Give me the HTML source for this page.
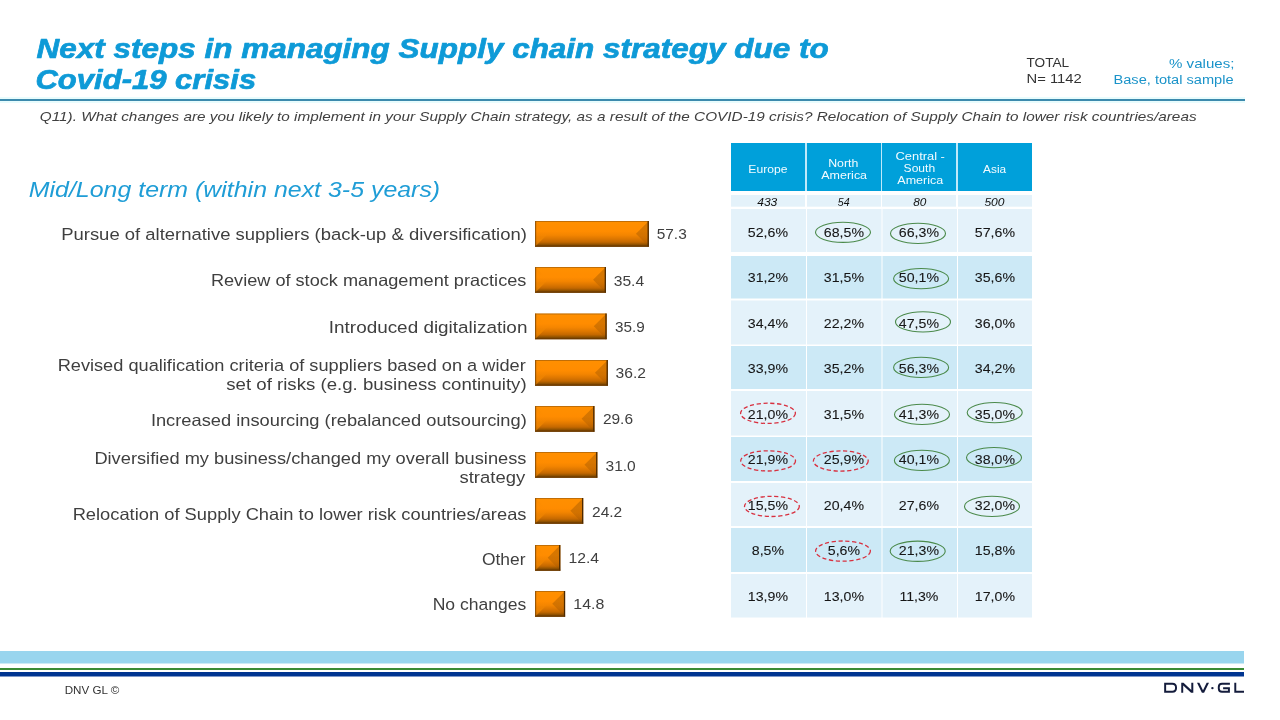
<!DOCTYPE html>
<html><head><meta charset="utf-8"><style>
html,body{margin:0;padding:0;background:#fff;width:1280px;height:720px;overflow:hidden}
svg{display:block;will-change:transform;font-family:"Liberation Sans",sans-serif}
</style></head><body>
<svg width="1280" height="720" viewBox="0 0 1280 720">
<defs>
<linearGradient id="gv" x1="0" y1="0" x2="0" y2="1">
 <stop offset="0" stop-color="#f59010"/><stop offset="0.06" stop-color="#ff8f00"/><stop offset="0.4" stop-color="#ff8c00"/><stop offset="0.55" stop-color="#f48500"/><stop offset="0.7" stop-color="#dc7600"/><stop offset="0.82" stop-color="#c46800"/><stop offset="0.9" stop-color="#9a5600"/><stop offset="0.95" stop-color="#7c4600"/><stop offset="1" stop-color="#764200"/>
</linearGradient>
<linearGradient id="gr" x1="0" y1="0" x2="0" y2="1">
 <stop offset="0" stop-color="#3a1e00" stop-opacity="0.22"/><stop offset="0.5" stop-color="#3a1e00" stop-opacity="0.2"/><stop offset="1" stop-color="#3a1e00" stop-opacity="0.0"/>
</linearGradient>
<linearGradient id="gl" x1="0" y1="0" x2="0" y2="1">
 <stop offset="0" stop-color="#e88000" stop-opacity="0.35"/><stop offset="0.5" stop-color="#ff9000" stop-opacity="0.0"/><stop offset="0.75" stop-color="#ff9000" stop-opacity="0.55"/><stop offset="1" stop-color="#f08400" stop-opacity="0.6"/>
</linearGradient>
</defs>
<rect x="0" y="97" width="1245" height="6" fill="#e8fcfd"/><rect x="0" y="99" width="1245" height="2" fill="#3c8aad"/>
<rect x="731" y="143" width="301" height="48" fill="#bfe9fa"/>
<rect x="731" y="143" width="74" height="48" fill="#00a0da"/>
<rect x="731" y="195" width="74" height="11.7" fill="#e4f2fa"/>
<rect x="807" y="143" width="74" height="48" fill="#00a0da"/>
<rect x="807" y="195" width="74" height="11.7" fill="#e4f2fa"/>
<rect x="882" y="143" width="74" height="48" fill="#00a0da"/>
<rect x="882" y="195" width="74" height="11.7" fill="#e4f2fa"/>
<rect x="958" y="143" width="74" height="48" fill="#00a0da"/>
<rect x="958" y="195" width="74" height="11.7" fill="#e4f2fa"/>
<rect x="731" y="209" width="75" height="43" fill="#e4f2fa"/>
<rect x="807" y="209" width="74.5" height="43" fill="#e4f2fa"/>
<rect x="882.5" y="209" width="74.5" height="43" fill="#e4f2fa"/>
<rect x="958" y="209" width="74" height="43" fill="#e4f2fa"/>
<rect x="731" y="256" width="75" height="42.5" fill="#cce9f6"/>
<rect x="807" y="256" width="74.5" height="42.5" fill="#cce9f6"/>
<rect x="882.5" y="256" width="74.5" height="42.5" fill="#cce9f6"/>
<rect x="958" y="256" width="74" height="42.5" fill="#cce9f6"/>
<rect x="731" y="300.5" width="75" height="44.0" fill="#e4f2fa"/>
<rect x="807" y="300.5" width="74.5" height="44.0" fill="#e4f2fa"/>
<rect x="882.5" y="300.5" width="74.5" height="44.0" fill="#e4f2fa"/>
<rect x="958" y="300.5" width="74" height="44.0" fill="#e4f2fa"/>
<rect x="731" y="346" width="75" height="43" fill="#cce9f6"/>
<rect x="807" y="346" width="74.5" height="43" fill="#cce9f6"/>
<rect x="882.5" y="346" width="74.5" height="43" fill="#cce9f6"/>
<rect x="958" y="346" width="74" height="43" fill="#cce9f6"/>
<rect x="731" y="391" width="75" height="44.5" fill="#e4f2fa"/>
<rect x="807" y="391" width="74.5" height="44.5" fill="#e4f2fa"/>
<rect x="882.5" y="391" width="74.5" height="44.5" fill="#e4f2fa"/>
<rect x="958" y="391" width="74" height="44.5" fill="#e4f2fa"/>
<rect x="731" y="437" width="75" height="44" fill="#cce9f6"/>
<rect x="807" y="437" width="74.5" height="44" fill="#cce9f6"/>
<rect x="882.5" y="437" width="74.5" height="44" fill="#cce9f6"/>
<rect x="958" y="437" width="74" height="44" fill="#cce9f6"/>
<rect x="731" y="483" width="75" height="43" fill="#e4f2fa"/>
<rect x="807" y="483" width="74.5" height="43" fill="#e4f2fa"/>
<rect x="882.5" y="483" width="74.5" height="43" fill="#e4f2fa"/>
<rect x="958" y="483" width="74" height="43" fill="#e4f2fa"/>
<rect x="731" y="528" width="75" height="44" fill="#cce9f6"/>
<rect x="807" y="528" width="74.5" height="44" fill="#cce9f6"/>
<rect x="882.5" y="528" width="74.5" height="44" fill="#cce9f6"/>
<rect x="958" y="528" width="74" height="44" fill="#cce9f6"/>
<rect x="731" y="574" width="75" height="43.5" fill="#e4f2fa"/>
<rect x="807" y="574" width="74.5" height="43.5" fill="#e4f2fa"/>
<rect x="882.5" y="574" width="74.5" height="43.5" fill="#e4f2fa"/>
<rect x="958" y="574" width="74" height="43.5" fill="#e4f2fa"/>
<g transform="translate(535.10,221)"><rect x="0" y="0" width="113.70" height="25.7" fill="url(#gv)"/><polygon points="0,0 12.85,12.85 0,25.7" fill="url(#gl)"/><polygon points="113.70,0 100.85,12.85 113.70,25.7" fill="url(#gr)"/><rect x="0.5" y="0.5" width="112.70" height="24.7" fill="none" stroke="#8a4c00" stroke-opacity="0.5" stroke-width="1"/><rect x="0" y="0" width="1" height="25.7" fill="#7a4400" fill-opacity="0.6"/><rect x="112.50" y="0" width="1.2" height="25.7" fill="#4a2800"/><rect x="0" y="24.70" width="113.70" height="1" fill="#6a3a00"/></g>
<g transform="translate(535.10,267)"><rect x="0" y="0" width="70.80" height="25.7" fill="url(#gv)"/><polygon points="0,0 12.85,12.85 0,25.7" fill="url(#gl)"/><polygon points="70.80,0 57.95,12.85 70.80,25.7" fill="url(#gr)"/><rect x="0.5" y="0.5" width="69.80" height="24.7" fill="none" stroke="#8a4c00" stroke-opacity="0.5" stroke-width="1"/><rect x="0" y="0" width="1" height="25.7" fill="#7a4400" fill-opacity="0.6"/><rect x="69.60" y="0" width="1.2" height="25.7" fill="#4a2800"/><rect x="0" y="24.70" width="70.80" height="1" fill="#6a3a00"/></g>
<g transform="translate(535.10,313.5)"><rect x="0" y="0" width="71.50" height="25.7" fill="url(#gv)"/><polygon points="0,0 12.85,12.85 0,25.7" fill="url(#gl)"/><polygon points="71.50,0 58.65,12.85 71.50,25.7" fill="url(#gr)"/><rect x="0.5" y="0.5" width="70.50" height="24.7" fill="none" stroke="#8a4c00" stroke-opacity="0.5" stroke-width="1"/><rect x="0" y="0" width="1" height="25.7" fill="#7a4400" fill-opacity="0.6"/><rect x="70.30" y="0" width="1.2" height="25.7" fill="#4a2800"/><rect x="0" y="24.70" width="71.50" height="1" fill="#6a3a00"/></g>
<g transform="translate(535.10,360)"><rect x="0" y="0" width="72.70" height="25.7" fill="url(#gv)"/><polygon points="0,0 12.85,12.85 0,25.7" fill="url(#gl)"/><polygon points="72.70,0 59.85,12.85 72.70,25.7" fill="url(#gr)"/><rect x="0.5" y="0.5" width="71.70" height="24.7" fill="none" stroke="#8a4c00" stroke-opacity="0.5" stroke-width="1"/><rect x="0" y="0" width="1" height="25.7" fill="#7a4400" fill-opacity="0.6"/><rect x="71.50" y="0" width="1.2" height="25.7" fill="#4a2800"/><rect x="0" y="24.70" width="72.70" height="1" fill="#6a3a00"/></g>
<g transform="translate(535.10,406)"><rect x="0" y="0" width="59.30" height="25.7" fill="url(#gv)"/><polygon points="0,0 12.85,12.85 0,25.7" fill="url(#gl)"/><polygon points="59.30,0 46.45,12.85 59.30,25.7" fill="url(#gr)"/><rect x="0.5" y="0.5" width="58.30" height="24.7" fill="none" stroke="#8a4c00" stroke-opacity="0.5" stroke-width="1"/><rect x="0" y="0" width="1" height="25.7" fill="#7a4400" fill-opacity="0.6"/><rect x="58.10" y="0" width="1.2" height="25.7" fill="#4a2800"/><rect x="0" y="24.70" width="59.30" height="1" fill="#6a3a00"/></g>
<g transform="translate(535.10,452)"><rect x="0" y="0" width="62.20" height="25.7" fill="url(#gv)"/><polygon points="0,0 12.85,12.85 0,25.7" fill="url(#gl)"/><polygon points="62.20,0 49.35,12.85 62.20,25.7" fill="url(#gr)"/><rect x="0.5" y="0.5" width="61.20" height="24.7" fill="none" stroke="#8a4c00" stroke-opacity="0.5" stroke-width="1"/><rect x="0" y="0" width="1" height="25.7" fill="#7a4400" fill-opacity="0.6"/><rect x="61.00" y="0" width="1.2" height="25.7" fill="#4a2800"/><rect x="0" y="24.70" width="62.20" height="1" fill="#6a3a00"/></g>
<g transform="translate(535.10,498)"><rect x="0" y="0" width="48.10" height="25.7" fill="url(#gv)"/><polygon points="0,0 12.85,12.85 0,25.7" fill="url(#gl)"/><polygon points="48.10,0 35.25,12.85 48.10,25.7" fill="url(#gr)"/><rect x="0.5" y="0.5" width="47.10" height="24.7" fill="none" stroke="#8a4c00" stroke-opacity="0.5" stroke-width="1"/><rect x="0" y="0" width="1" height="25.7" fill="#7a4400" fill-opacity="0.6"/><rect x="46.90" y="0" width="1.2" height="25.7" fill="#4a2800"/><rect x="0" y="24.70" width="48.10" height="1" fill="#6a3a00"/></g>
<g transform="translate(535.10,545)"><rect x="0" y="0" width="25.20" height="25.7" fill="url(#gv)"/><polygon points="0,0 12.60,12.85 0,25.7" fill="url(#gl)"/><polygon points="25.20,0 12.60,12.85 25.20,25.7" fill="url(#gr)"/><rect x="0.5" y="0.5" width="24.20" height="24.7" fill="none" stroke="#8a4c00" stroke-opacity="0.5" stroke-width="1"/><rect x="0" y="0" width="1" height="25.7" fill="#7a4400" fill-opacity="0.6"/><rect x="24.00" y="0" width="1.2" height="25.7" fill="#4a2800"/><rect x="0" y="24.70" width="25.20" height="1" fill="#6a3a00"/></g>
<g transform="translate(535.10,591)"><rect x="0" y="0" width="30.00" height="25.7" fill="url(#gv)"/><polygon points="0,0 12.85,12.85 0,25.7" fill="url(#gl)"/><polygon points="30.00,0 17.15,12.85 30.00,25.7" fill="url(#gr)"/><rect x="0.5" y="0.5" width="29.00" height="24.7" fill="none" stroke="#8a4c00" stroke-opacity="0.5" stroke-width="1"/><rect x="0" y="0" width="1" height="25.7" fill="#7a4400" fill-opacity="0.6"/><rect x="28.80" y="0" width="1.2" height="25.7" fill="#4a2800"/><rect x="0" y="24.70" width="30.00" height="1" fill="#6a3a00"/></g>
<text transform="translate(36.60,57.5) scale(1.1571,1.0)" font-size="27.2" font-weight="bold" font-style="italic" fill="#0e9ad7" stroke="#0e9ad7" stroke-width="0.7" stroke-linejoin="round">Next steps in managing Supply chain strategy due to</text>
<text transform="translate(35.46,89.4) scale(1.1412,1.0)" font-size="27.2" font-weight="bold" font-style="italic" fill="#0e9ad7" stroke="#0e9ad7" stroke-width="0.7" stroke-linejoin="round">Covid-19 crisis</text>
<text transform="translate(39.75,120.7) scale(1.2573,1.0)" font-size="12.2" font-weight="normal" font-style="italic" fill="#404040">Q11). What changes are you likely to implement in your Supply Chain strategy, as a result of the COVID-19 crisis? Relocation of Supply Chain to lower risk countries/areas</text>
<text transform="translate(1026.50,66.9) scale(1.1375,1.0)" font-size="12" font-weight="normal" font-style="normal" fill="#333333">TOTAL</text>
<text transform="translate(1026.50,82.8) scale(1.2340,1.0)" font-size="12" font-weight="normal" font-style="normal" fill="#333333">N= 1142</text>
<text transform="translate(1169.00,67.8) scale(1.2575,1.0)" font-size="12" font-weight="normal" font-style="normal" fill="#1a93c9">% values;</text>
<text transform="translate(1113.50,83.8) scale(1.2166,1.0)" font-size="12" font-weight="normal" font-style="normal" fill="#1a93c9">Base, total sample</text>
<text transform="translate(28.75,196.6) scale(1.1136,1.0)" font-size="22.4" font-weight="normal" font-style="italic" fill="#1f9dd6">Mid/Long term (within next 3-5 years)</text>
<text transform="translate(61.17,239.8) scale(1.1328,1.0)" font-size="16.3" font-weight="normal" font-style="normal" fill="#3f3f3f">Pursue of alternative suppliers (back-up &amp; diversification)</text>
<text transform="translate(210.89,286.2) scale(1.1135,1.0)" font-size="16.3" font-weight="normal" font-style="normal" fill="#3f3f3f">Review of stock management practices</text>
<text transform="translate(328.84,332.5) scale(1.1603,1.0)" font-size="16.3" font-weight="normal" font-style="normal" fill="#3f3f3f">Introduced digitalization</text>
<text transform="translate(57.63,370.5) scale(1.1165,1.0)" font-size="16.3" font-weight="normal" font-style="normal" fill="#3f3f3f">Revised qualification criteria of suppliers based on a wider</text>
<text transform="translate(226.25,389.5) scale(1.1445,1.0)" font-size="16.3" font-weight="normal" font-style="normal" fill="#3f3f3f">set of risks (e.g. business continuity)</text>
<text transform="translate(150.88,426.25) scale(1.1219,1.0)" font-size="16.3" font-weight="normal" font-style="normal" fill="#3f3f3f">Increased insourcing (rebalanced outsourcing)</text>
<text transform="translate(94.38,464.25) scale(1.1203,1.0)" font-size="16.3" font-weight="normal" font-style="normal" fill="#3f3f3f">Diversified my business/changed my overall business</text>
<text transform="translate(459.50,482.5) scale(1.1332,1.0)" font-size="16.3" font-weight="normal" font-style="normal" fill="#3f3f3f">strategy</text>
<text transform="translate(72.63,520) scale(1.1239,1.0)" font-size="16.3" font-weight="normal" font-style="normal" fill="#3f3f3f">Relocation of Supply Chain to lower risk countries/areas</text>
<text transform="translate(482.00,564.5) scale(1.0679,1.0)" font-size="16.3" font-weight="normal" font-style="normal" fill="#3f3f3f">Other</text>
<text transform="translate(432.67,609.5) scale(1.0770,1.0)" font-size="16.3" font-weight="normal" font-style="normal" fill="#3f3f3f">No changes</text>
<text transform="translate(656.70,238.5) scale(1.1033,1.0)" font-size="14.0" font-weight="normal" font-style="normal" fill="#3f3f3f">57.3</text>
<text transform="translate(613.75,285.9) scale(1.1161,1.0)" font-size="14.0" font-weight="normal" font-style="normal" fill="#3f3f3f">35.4</text>
<text transform="translate(615.00,331.5) scale(1.0924,1.0)" font-size="14.0" font-weight="normal" font-style="normal" fill="#3f3f3f">35.9</text>
<text transform="translate(615.50,378.2) scale(1.1179,1.0)" font-size="14.0" font-weight="normal" font-style="normal" fill="#3f3f3f">36.2</text>
<text transform="translate(602.90,424) scale(1.1070,1.0)" font-size="14.0" font-weight="normal" font-style="normal" fill="#3f3f3f">29.6</text>
<text transform="translate(605.50,470.7) scale(1.1106,1.0)" font-size="14.0" font-weight="normal" font-style="normal" fill="#3f3f3f">31.0</text>
<text transform="translate(592.00,516.7) scale(1.1106,1.0)" font-size="14.0" font-weight="normal" font-style="normal" fill="#3f3f3f">24.2</text>
<text transform="translate(568.47,562.6) scale(1.1261,1.0)" font-size="14.0" font-weight="normal" font-style="normal" fill="#3f3f3f">12.4</text>
<text transform="translate(573.36,608.7) scale(1.1375,1.0)" font-size="14.0" font-weight="normal" font-style="normal" fill="#3f3f3f">14.8</text>
<text transform="translate(748.30,172.8) scale(1.1799,1.0)" font-size="10.3" font-weight="normal" font-style="normal" fill="#f2fbff">Europe</text>
<text transform="translate(828.20,166.9) scale(1.1983,1.0)" font-size="10.3" font-weight="normal" font-style="normal" fill="#f2fbff">North</text>
<text transform="translate(821.30,178.6) scale(1.2120,1.0)" font-size="10.3" font-weight="normal" font-style="normal" fill="#f2fbff">America</text>
<text transform="translate(895.50,159.6) scale(1.2521,1.0)" font-size="10.3" font-weight="normal" font-style="normal" fill="#f2fbff">Central -</text>
<text transform="translate(903.60,171.5) scale(1.1736,1.0)" font-size="10.3" font-weight="normal" font-style="normal" fill="#f2fbff">South</text>
<text transform="translate(897.30,184.4) scale(1.2146,1.0)" font-size="10.3" font-weight="normal" font-style="normal" fill="#f2fbff">America</text>
<text transform="translate(983.10,172.8) scale(1.1476,1.0)" font-size="10.3" font-weight="normal" font-style="normal" fill="#f2fbff">Asia</text>
<text transform="translate(757.20,205.5) scale(1.2031,1.0)" font-size="10" font-weight="normal" font-style="italic" fill="#111111">433</text>
<text transform="translate(837.80,205.5) scale(1.0639,1.0)" font-size="10" font-weight="normal" font-style="italic" fill="#111111">54</text>
<text transform="translate(913.20,205.5) scale(1.1850,1.0)" font-size="10" font-weight="normal" font-style="italic" fill="#111111">80</text>
<text transform="translate(984.40,205.5) scale(1.2031,1.0)" font-size="10" font-weight="normal" font-style="italic" fill="#111111">500</text>
<text transform="translate(64.70,693.75) scale(1.0975,1.0)" font-size="10.6" font-weight="normal" font-style="normal" fill="#333333">DNV GL ©</text>
<text transform="translate(747.85,236.9) scale(1.1607,1)" font-size="12.2" font-style="normal" fill="#161616" stroke="#161616" stroke-width="0.08">52,6%</text>
<text transform="translate(823.85,236.9) scale(1.1607,1)" font-size="12.2" font-style="normal" fill="#161616" stroke="#161616" stroke-width="0.08">68,5%</text>
<text transform="translate(898.85,236.9) scale(1.1607,1)" font-size="12.2" font-style="normal" fill="#161616" stroke="#161616" stroke-width="0.08">66,3%</text>
<text transform="translate(974.85,236.9) scale(1.1607,1)" font-size="12.2" font-style="normal" fill="#161616" stroke="#161616" stroke-width="0.08">57,6%</text>
<text transform="translate(747.85,282) scale(1.1607,1)" font-size="12.2" font-style="normal" fill="#161616" stroke="#161616" stroke-width="0.08">31,2%</text>
<text transform="translate(823.85,282) scale(1.1607,1)" font-size="12.2" font-style="normal" fill="#161616" stroke="#161616" stroke-width="0.08">31,5%</text>
<text transform="translate(898.85,282) scale(1.1607,1)" font-size="12.2" font-style="normal" fill="#161616" stroke="#161616" stroke-width="0.08">50,1%</text>
<text transform="translate(974.85,282) scale(1.1607,1)" font-size="12.2" font-style="normal" fill="#161616" stroke="#161616" stroke-width="0.08">35,6%</text>
<text transform="translate(747.85,328) scale(1.1607,1)" font-size="12.2" font-style="normal" fill="#161616" stroke="#161616" stroke-width="0.08">34,4%</text>
<text transform="translate(823.85,328) scale(1.1607,1)" font-size="12.2" font-style="normal" fill="#161616" stroke="#161616" stroke-width="0.08">22,2%</text>
<text transform="translate(898.85,328) scale(1.1607,1)" font-size="12.2" font-style="normal" fill="#161616" stroke="#161616" stroke-width="0.08">47,5%</text>
<text transform="translate(974.85,328) scale(1.1607,1)" font-size="12.2" font-style="normal" fill="#161616" stroke="#161616" stroke-width="0.08">36,0%</text>
<text transform="translate(747.85,373) scale(1.1607,1)" font-size="12.2" font-style="normal" fill="#161616" stroke="#161616" stroke-width="0.08">33,9%</text>
<text transform="translate(823.85,373) scale(1.1607,1)" font-size="12.2" font-style="normal" fill="#161616" stroke="#161616" stroke-width="0.08">35,2%</text>
<text transform="translate(898.85,373) scale(1.1607,1)" font-size="12.2" font-style="normal" fill="#161616" stroke="#161616" stroke-width="0.08">56,3%</text>
<text transform="translate(974.85,373) scale(1.1607,1)" font-size="12.2" font-style="normal" fill="#161616" stroke="#161616" stroke-width="0.08">34,2%</text>
<text transform="translate(747.85,418.75) scale(1.1607,1)" font-size="12.2" font-style="normal" fill="#161616" stroke="#161616" stroke-width="0.08">21,0%</text>
<text transform="translate(823.85,418.75) scale(1.1607,1)" font-size="12.2" font-style="normal" fill="#161616" stroke="#161616" stroke-width="0.08">31,5%</text>
<text transform="translate(898.85,418.75) scale(1.1607,1)" font-size="12.2" font-style="normal" fill="#161616" stroke="#161616" stroke-width="0.08">41,3%</text>
<text transform="translate(974.85,418.75) scale(1.1607,1)" font-size="12.2" font-style="normal" fill="#161616" stroke="#161616" stroke-width="0.08">35,0%</text>
<text transform="translate(747.85,464) scale(1.1607,1)" font-size="12.2" font-style="normal" fill="#161616" stroke="#161616" stroke-width="0.08">21,9%</text>
<text transform="translate(823.85,464) scale(1.1607,1)" font-size="12.2" font-style="normal" fill="#161616" stroke="#161616" stroke-width="0.08">25,9%</text>
<text transform="translate(898.85,464) scale(1.1607,1)" font-size="12.2" font-style="normal" fill="#161616" stroke="#161616" stroke-width="0.08">40,1%</text>
<text transform="translate(974.85,464) scale(1.1607,1)" font-size="12.2" font-style="normal" fill="#161616" stroke="#161616" stroke-width="0.08">38,0%</text>
<text transform="translate(747.85,510) scale(1.1607,1)" font-size="12.2" font-style="normal" fill="#161616" stroke="#161616" stroke-width="0.08">15,5%</text>
<text transform="translate(823.85,510) scale(1.1607,1)" font-size="12.2" font-style="normal" fill="#161616" stroke="#161616" stroke-width="0.08">20,4%</text>
<text transform="translate(898.85,510) scale(1.1607,1)" font-size="12.2" font-style="normal" fill="#161616" stroke="#161616" stroke-width="0.08">27,6%</text>
<text transform="translate(974.85,510) scale(1.1607,1)" font-size="12.2" font-style="normal" fill="#161616" stroke="#161616" stroke-width="0.08">32,0%</text>
<text transform="translate(751.78,555) scale(1.1607,1)" font-size="12.2" font-style="normal" fill="#161616" stroke="#161616" stroke-width="0.08">8,5%</text>
<text transform="translate(827.78,555) scale(1.1607,1)" font-size="12.2" font-style="normal" fill="#161616" stroke="#161616" stroke-width="0.08">5,6%</text>
<text transform="translate(898.85,555) scale(1.1607,1)" font-size="12.2" font-style="normal" fill="#161616" stroke="#161616" stroke-width="0.08">21,3%</text>
<text transform="translate(974.85,555) scale(1.1607,1)" font-size="12.2" font-style="normal" fill="#161616" stroke="#161616" stroke-width="0.08">15,8%</text>
<text transform="translate(747.85,601) scale(1.1607,1)" font-size="12.2" font-style="normal" fill="#161616" stroke="#161616" stroke-width="0.08">13,9%</text>
<text transform="translate(823.85,601) scale(1.1607,1)" font-size="12.2" font-style="normal" fill="#161616" stroke="#161616" stroke-width="0.08">13,0%</text>
<text transform="translate(899.38,601) scale(1.1607,1)" font-size="12.2" font-style="normal" fill="#161616" stroke="#161616" stroke-width="0.08">11,3%</text>
<text transform="translate(974.85,601) scale(1.1607,1)" font-size="12.2" font-style="normal" fill="#161616" stroke="#161616" stroke-width="0.08">17,0%</text>
<ellipse cx="843" cy="232.3" rx="27.5" ry="10.1" fill="none" stroke="#4b8a4b" stroke-width="1.1"/>
<ellipse cx="918" cy="233.4" rx="27.5" ry="10.1" fill="none" stroke="#4b8a4b" stroke-width="1.1"/>
<ellipse cx="921.1" cy="278.6" rx="27.5" ry="10.1" fill="none" stroke="#4b8a4b" stroke-width="1.1"/>
<ellipse cx="923" cy="321.9" rx="27.5" ry="10.1" fill="none" stroke="#4b8a4b" stroke-width="1.1"/>
<ellipse cx="921.1" cy="367.4" rx="27.5" ry="10.1" fill="none" stroke="#4b8a4b" stroke-width="1.1"/>
<ellipse cx="922" cy="414.4" rx="27.5" ry="10.1" fill="none" stroke="#4b8a4b" stroke-width="1.1"/>
<ellipse cx="994.7" cy="412.6" rx="27.5" ry="10.1" fill="none" stroke="#4b8a4b" stroke-width="1.1"/>
<ellipse cx="921.9" cy="460.4" rx="27.5" ry="10.1" fill="none" stroke="#4b8a4b" stroke-width="1.1"/>
<ellipse cx="994" cy="457.6" rx="27.5" ry="10.1" fill="none" stroke="#4b8a4b" stroke-width="1.1"/>
<ellipse cx="992" cy="506.4" rx="27.5" ry="10.1" fill="none" stroke="#4b8a4b" stroke-width="1.1"/>
<ellipse cx="917.7" cy="551.25" rx="27.5" ry="10.1" fill="none" stroke="#4b8a4b" stroke-width="1.1"/>
<ellipse cx="768" cy="413.3" rx="27.4" ry="10.1" fill="none" stroke="#d8303f" stroke-width="1.3" stroke-dasharray="4.2 2.6"/>
<ellipse cx="768.1" cy="460.9" rx="27.4" ry="10.1" fill="none" stroke="#d8303f" stroke-width="1.3" stroke-dasharray="4.2 2.6"/>
<ellipse cx="840.8" cy="461" rx="27.4" ry="10.1" fill="none" stroke="#d8303f" stroke-width="1.3" stroke-dasharray="4.2 2.6"/>
<ellipse cx="771.9" cy="506.4" rx="27.4" ry="10.1" fill="none" stroke="#d8303f" stroke-width="1.3" stroke-dasharray="4.2 2.6"/>
<ellipse cx="843" cy="551.1" rx="27.4" ry="10.1" fill="none" stroke="#d8303f" stroke-width="1.3" stroke-dasharray="4.2 2.6"/>
<rect x="0" y="651" width="1244" height="12.5" fill="#99d5ee"/>
<rect x="0" y="668" width="1244" height="2" fill="#3a8b34"/>
<rect x="0" y="672" width="1244" height="4.5" fill="#003591"/>
<g fill="none" stroke="#141c3c" stroke-width="1.95" stroke-linecap="butt" stroke-linejoin="miter">
<path d="M1165.15,683.7 H1172.3 Q1176.03,683.7 1176.03,687.4 V688.1 Q1176.03,691.83 1172.3,691.83 H1165.15 Z"/>
<path d="M1218.78,687 Q1218.78,683.75 1222,683.75 H1229.9 M1218.78,687 V688.6 Q1218.78,691.83 1222,691.83 H1228.93 V688.25 H1223.1"/>
<path d="M1235.28,682.8 V691.83 H1244"/>
</g>
<g fill="#141c3c">
<polygon points="1181.25,692.8 1181.25,682.8 1183.5,682.8 1191.3,689.9 1191.3,682.8 1193.3,682.8 1193.3,692.8 1191.05,692.8 1183.2,685.6 1183.2,692.8"/>
<polygon points="1197,682.8 1199.35,682.8 1203,690.2 1206.65,682.8 1209,682.8 1204.1,692.8 1201.9,692.8"/>
<circle cx="1212.4" cy="688.1" r="1.2"/>
</g>
</svg>
</body></html>
